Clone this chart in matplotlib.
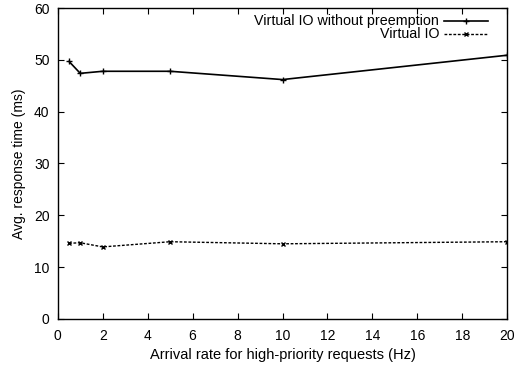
import matplotlib
matplotlib.use("Agg")
import matplotlib.pyplot as plt

x = [0.5, 1, 2, 5, 10, 20]
no_preempt = [49.7, 47.4, 47.8, 47.8, 46.2, 50.9]
virtual_io = [14.6, 14.7, 13.9, 14.9, 14.5, 14.9]
xticks = list(range(0, 21, 2))
yticks = list(range(0, 61, 10))
labels = ['Virtual IO without preemption', 'Virtual IO']

plt.rcParams['font.family'] = ['Liberation Sans', 'DejaVu Sans']
fig = plt.figure(figsize=(5.16, 3.67), dpi=100)
ax = fig.add_axes([0.112, 0.131, 0.871, 0.847])

styles = [dict(lw=1.2, ls='-', marker='+', ms=4, mew=1),
          dict(lw=1.0, ls=(0, (2, 1.2)), marker='x', ms=3.5, mew=1)]
series = [no_preempt, virtual_io]
for ys, st in zip(series, styles):
    ax.plot(x, ys, color='black', **st)

ax.set_xlim(0, 20)
ax.set_ylim(0, 60)
ax.set_xticks(xticks)
ax.set_yticks(yticks)
ax.tick_params(direction='in', top=True, right=True, labelsize=10, length=4)
ax.tick_params(axis='x', pad=7)
ax.tick_params(axis='y', pad=6)
for s in ax.spines.values():
    s.set_linewidth(1.0)
ax.set_xlabel('Arrival rate for high-priority requests (Hz)', fontsize=10.5, labelpad=4)
ax.set_ylabel('Avg. response time (ms)', fontsize=10, labelpad=6)

# gnuplot-style legend: right-aligned text, sample to the right
leg_y = [0.958, 0.916]
for lab, st, yy in zip(labels, styles, leg_y):
    ax.text(0.849, yy, lab, transform=ax.transAxes, ha='right', va='center', fontsize=10.3)
    ax.plot([0.86, 0.958], [yy, yy], transform=ax.transAxes, color='black',
            lw=st['lw'], ls=st['ls'], clip_on=False)
    ax.plot([0.909], [yy], transform=ax.transAxes, color='black', ls='none',
            marker=st['marker'], ms=st['ms'], mew=st['mew'], clip_on=False)

fig.savefig('out.png', dpi=100)
